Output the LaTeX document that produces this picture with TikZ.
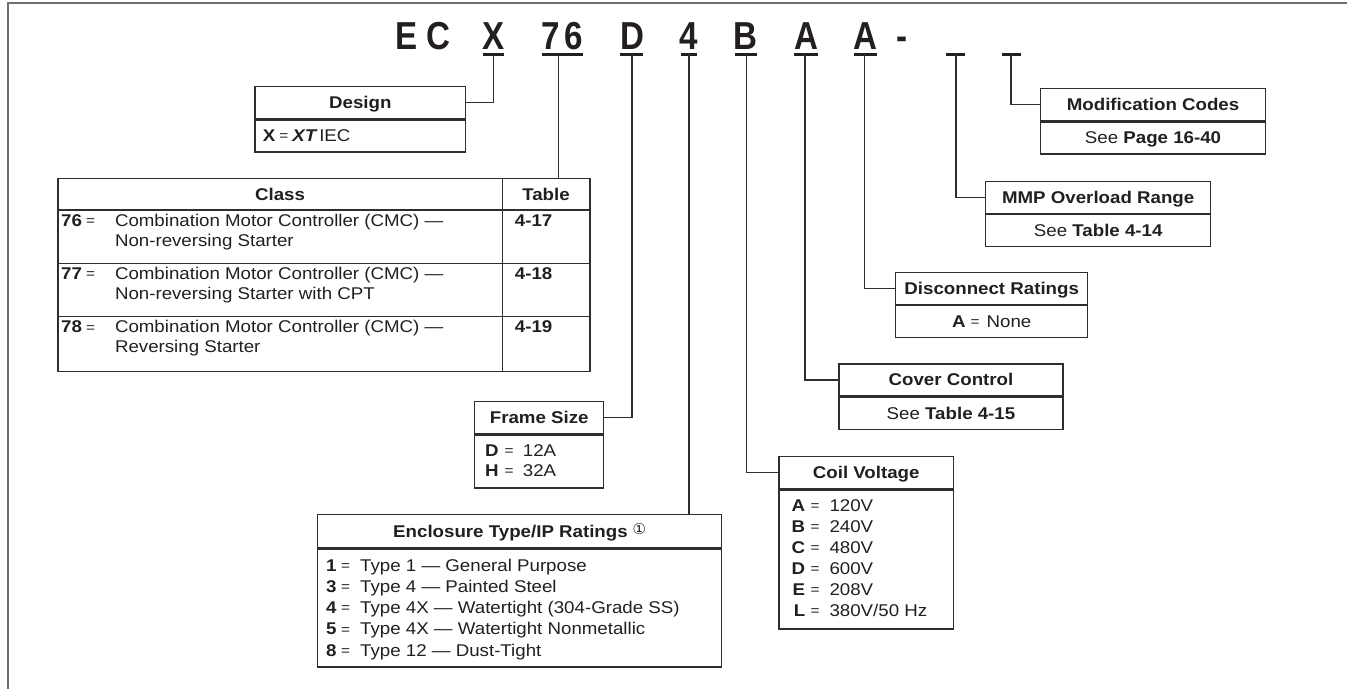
\documentclass[tikz,border=0pt]{standalone}
\usepackage{fontspec}
\setmainfont{Liberation Sans}[FakeStretch=1.1]
\newfontfamily\codefont{Liberation Sans}[FakeStretch=0.85]
\newfontfamily\symfont{DejaVu Sans}
\usetikzlibrary{calc}
\definecolor{ink}{HTML}{231F20}
\definecolor{framegray}{HTML}{707070}
\definecolor{rule}{HTML}{2E2E2E}
\newcommand\eqs{\raisebox{0.6pt}{\fontsize{14}{14}\selectfont =}}
\tikzset{
  hdr/.style={draw=rule, line width=1.4pt, minimum height=32pt, inner sep=0pt, anchor=north west,
    text height=11.7pt, text depth=0pt, text=ink, font=\fontsize{17}{21}\selectfont\bfseries},
  bdy/.style={draw=rule, line width=1.4pt, minimum height=32pt, inner sep=0pt, anchor=north west,
    text height=11.7pt, text depth=0pt, text=ink, font=\fontsize{17}{21}\selectfont},
  txt/.style={inner sep=0pt, anchor=base west, text=ink, font=\fontsize{17}{21}\selectfont},
  lead/.style={draw=rule, line width=1.2pt},
  uline/.style={draw=ink, line width=3pt},
  codech/.style={inner sep=0pt, anchor=base, text=ink, font={\codefont\bfseries\fontsize{39}{39}\selectfont}},
  tline/.style={draw=rule, line width=1.4pt},
}
\begin{document}
\begin{tikzpicture}[x=1pt,y=-1pt]
\useasboundingbox (0,0) rectangle (1347,689);
% outer frame
\draw[framegray, line width=2pt] (8.3,689) -- (8.3,2.7) -- (1347,2.7);

% catalog code characters
\node[codech] (cE) at (406.8,49.3) {E};
\node[codech] (cC) at (438,49.3) {C};
\node[codech] (cX) at (494,49.3) {X};
\node[codech] (c7) at (551,49.3) {7};
\node[codech] (c6) at (573.5,49.3) {6};
\node[codech] (cD) at (632,49.3) {D};
\node[codech] (c4) at (689,49.3) {4};
\node[codech] (cB) at (745.7,49.3) {B};
\node[codech] (cA1) at (806,49.3) {A};
\node[codech] (cA2) at (865.7,49.3) {A};
\node[codech] (cH) at (902.4,49.3) {-};

% underlines
\draw[uline] (483,54.3) -- (504,54.3);
\draw[uline] (542,54.3) -- (583,54.3);
\draw[uline] (620,54.3) -- (643,54.3);
\draw[uline] (681,54.3) -- (697,54.3);
\draw[uline] (735,54.3) -- (757,54.3);
\draw[uline] (794,54.3) -- (817.5,54.3);
\draw[uline] (854,54.3) -- (877,54.3);
\draw[uline] (945.7,54.3) -- (965,54.3);
\draw[uline] (1001.7,54.3) -- (1020.7,54.3);

% stem origins
\coordinate (sX) at (493.6,54.3);
\coordinate (s76) at (558.6,54.3);
\coordinate (sD) at (632,54.3);
\coordinate (s4) at (689,54.3);
\coordinate (sB) at (746.7,54.3);
\coordinate (sA1) at (805,54.3);
\coordinate (sA2) at (864.4,54.3);
\coordinate (sM) at (956,54.3);
\coordinate (sN) at (1011,54.3);

% Design
\node[hdr, minimum width=210.7pt] (desH) at (254.3,86) {Design};
\node[bdy, minimum width=210.7pt] (desB) at (desH.south west) {};
\node[txt] (desT) at (262.7,141) {{\bfseries X}\hspace{4pt}\eqs\hspace{4pt}{\bfseries\itshape XT}\hspace{3pt}IEC};

% Class table
\node[draw=rule, line width=1.4pt, minimum width=532pt, minimum height=193pt, inner sep=0pt, anchor=north west] (cls) at (57.4,178) {};
\draw[tline] (502.5,178) -- (502.5,371);
\draw[tline] (57.4,210) -- (589.4,210);
\draw[tline] (57.4,263.3) -- (589.4,263.3);
\draw[tline] (57.4,316.7) -- (589.4,316.7);
\node[txt, anchor=base, font=\fontsize{17}{21}\selectfont\bfseries] (clsH) at (280,200) {Class};
\node[txt, anchor=base, font=\fontsize{17}{21}\selectfont\bfseries] (tblH) at (546,200) {Table};
\node[txt] (r76a) at (61,226) {\makebox[24.5pt][l]{\bfseries 76}\makebox[10pt]{\eqs}\hspace{19.3pt}Combination Motor Controller (CMC) —};
\node[txt] (r76b) at (114.8,246) {Non-reversing Starter};
\node[txt] (r76t) at (514.7,226) {\bfseries 4-17};
\node[txt] (r77a) at (61,279.3) {\makebox[24.5pt][l]{\bfseries 77}\makebox[10pt]{\eqs}\hspace{19.3pt}Combination Motor Controller (CMC) —};
\node[txt] (r77b) at (114.8,299.3) {Non-reversing Starter with CPT};
\node[txt] (r77t) at (514.7,279.3) {\bfseries 4-18};
\node[txt] (r78a) at (61,332.7) {\makebox[24.5pt][l]{\bfseries 78}\makebox[10pt]{\eqs}\hspace{19.3pt}Combination Motor Controller (CMC) —};
\node[txt] (r78b) at (114.8,352.7) {Reversing Starter};
\node[txt] (r78t) at (514.7,332.7) {\bfseries 4-19};

% Frame size
\node[hdr, minimum width=129pt] (frmH) at (474,401) {Frame Size};
\node[bdy, minimum width=129pt, minimum height=53pt] (frmB) at (frmH.south west) {};
\node[txt] (frm1) at (485,456) {\makebox[14pt][l]{\bfseries D}\makebox[20pt]{\eqs}\hspace{3.7pt}12A};
\node[txt] (frm2) at (485,476) {\makebox[14pt][l]{\bfseries H}\makebox[20pt]{\eqs}\hspace{3.7pt}32A};

% Enclosure
\node[hdr, minimum width=404pt, minimum height=33pt] (encH) at (317,514) {Enclosure Type/IP Ratings\hspace{5pt}\raisebox{3pt}{\symfont\mdseries\fontsize{15}{15}\selectfont ①}};
\node[bdy, minimum width=404pt, minimum height=118pt] (encB) at (encH.south west) {};
\node[txt] (enc1) at (326,571) {\makebox[14.5pt][l]{\bfseries 1}\makebox[10pt]{\eqs}\hspace{9.5pt}Type 1 — General Purpose};
\node[txt] (enc3) at (326,592.2) {\makebox[14.5pt][l]{\bfseries 3}\makebox[10pt]{\eqs}\hspace{9.5pt}Type 4 — Painted Steel};
\node[txt] (enc4) at (326,613.5) {\makebox[14.5pt][l]{\bfseries 4}\makebox[10pt]{\eqs}\hspace{9.5pt}Type 4X — Watertight (304-Grade SS)};
\node[txt] (enc5) at (326,634.7) {\makebox[14.5pt][l]{\bfseries 5}\makebox[10pt]{\eqs}\hspace{9.5pt}Type 4X — Watertight Nonmetallic};
\node[txt] (enc8) at (326,656) {\makebox[14.5pt][l]{\bfseries 8}\makebox[10pt]{\eqs}\hspace{9.5pt}Type 12 — Dust-Tight};

% Coil voltage
\node[hdr, minimum width=174.4pt, minimum height=32.3pt] (coilH) at (778.3,456) {Coil Voltage};
\node[bdy, minimum width=174.4pt, minimum height=138.4pt] (coilB) at (coilH.south west) {};
\node[txt] (coA) at (786,511) {\makebox[19pt][r]{\bfseries A}\makebox[20pt]{\eqs}\hspace{4.3pt}120V};
\node[txt] (coB) at (786,532.1) {\makebox[19pt][r]{\bfseries B}\makebox[20pt]{\eqs}\hspace{4.3pt}240V};
\node[txt] (coC) at (786,553.2) {\makebox[19pt][r]{\bfseries C}\makebox[20pt]{\eqs}\hspace{4.3pt}480V};
\node[txt] (coD) at (786,574.3) {\makebox[19pt][r]{\bfseries D}\makebox[20pt]{\eqs}\hspace{4.3pt}600V};
\node[txt] (coE) at (786,595.4) {\makebox[19pt][r]{\bfseries E}\makebox[20pt]{\eqs}\hspace{4.3pt}208V};
\node[txt] (coL) at (786,616.5) {\makebox[19pt][r]{\bfseries L}\makebox[20pt]{\eqs}\hspace{4.3pt}380V/50 Hz};

% Cover control
\node[hdr, minimum width=224pt] (covH) at (838.3,363.3) {Cover Control};
\node[bdy, minimum width=224pt] (covB) at (covH.south west) {See \textbf{Table 4-15}};

% Disconnect ratings
\node[hdr, minimum width=192pt] (disH) at (895,271.5) {Disconnect Ratings};
\node[bdy, minimum width=192pt] (disB) at (disH.south west) {{\bfseries A}\hspace{5pt}\eqs\hspace{7pt}None};

% MMP overload range
\node[hdr, minimum width=225pt] (mmpH) at (985,180.5) {MMP Overload Range};
\node[bdy, minimum width=225pt] (mmpB) at (mmpH.south west) {See \textbf{Table 4-14}};

% Modification codes
\node[hdr, minimum width=224.7pt] (modH) at (1040,88) {Modification Codes};
\node[bdy, minimum width=224.7pt] (modB) at (modH.south west) {See \textbf{Page 16-40}};

% connectors
\draw[lead] (desH.east) -| (sX);
\draw[lead] (s76) -- (s76 |- cls.north);
\draw[lead] (frmH.east) -| (sD);
\draw[lead] (s4) -- (s4 |- encH.north);
\draw[lead] (coilH.west) -| (sB);
\draw[lead] (covH.west) -| (sA1);
\draw[lead] (disH.west) -| (sA2);
\draw[lead] (mmpH.west) -| (sM);
\draw[lead] (modH.west) -| (sN);
\end{tikzpicture}
\end{document}
